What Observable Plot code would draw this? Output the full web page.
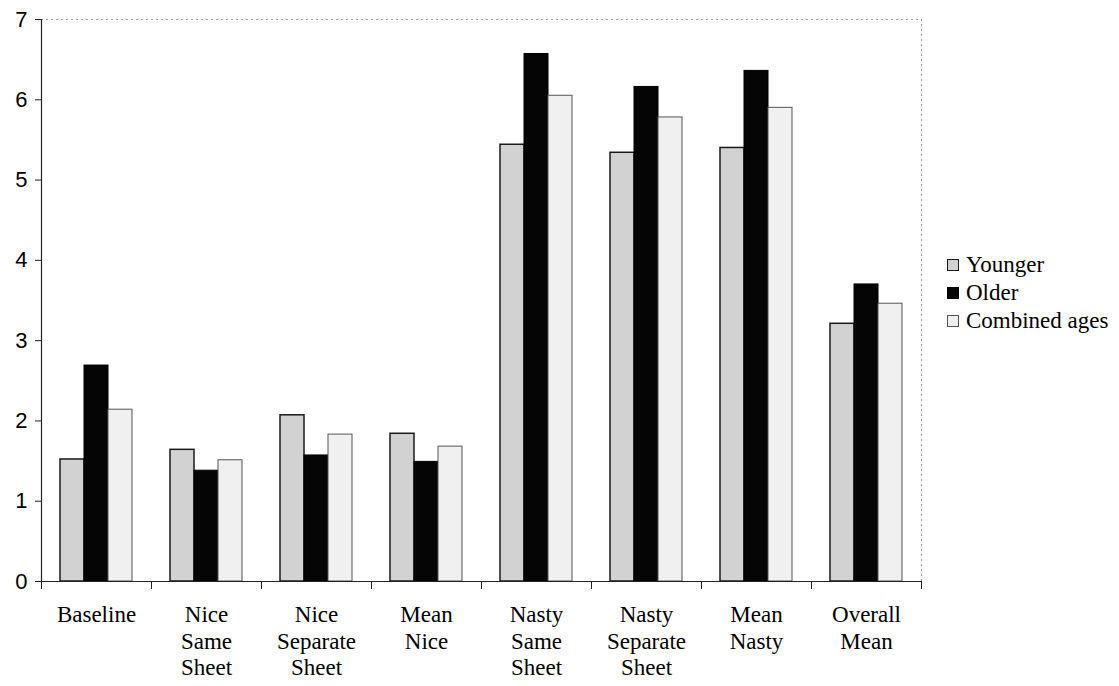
<!DOCTYPE html>
<html>
<head>
<meta charset="utf-8">
<script src="https://cdn.jsdelivr.net/npm/d3@7"></script>
<script src="https://cdn.jsdelivr.net/npm/@observablehq/plot@0.6"></script>
<style>
  body { margin: 0; background: #fff; }
  #wrap { position: relative; width: 1119px; height: 686px; }
  #legend { position: absolute; left: 947px; top: 251px; font-family: "Liberation Serif", serif; font-size: 23px; color: #000; }
  #legend div { height: 28px; line-height: 28px; display: flex; align-items: center; white-space: nowrap; }
  #legend span.sw { display: inline-block; width: 12px; height: 12px; margin-right: 7px; box-sizing: border-box; }
</style>
</head>
<body>
<div id="wrap"><div id="legend"></div></div>
<script>
const categories = ["Baseline", "Nice\nSame\nSheet", "Nice\nSeparate\nSheet", "Mean\nNice", "Nasty\nSame\nSheet", "Nasty\nSeparate\nSheet", "Mean\nNasty", "Overall\nMean"];
const series = ["Younger", "Older", "Combined ages"];
const younger = [1.52, 1.64, 2.07, 1.84, 5.44, 5.34, 5.40, 3.21];
const older = [2.69, 1.38, 1.57, 1.49, 6.57, 6.16, 6.36, 3.70];
const combined = [2.14, 1.51, 1.83, 1.68, 6.05, 5.78, 5.90, 3.46];
const yTicks = [0, 1, 2, 3, 4, 5, 6, 7];

const fills = {"Younger": "#d2d2d2", "Older": "#050505", "Combined ages": "#f0f0f0"};
const strokes = {"Younger": "#1a1a1a", "Older": "#000", "Combined ages": "#555"};

const rows = (vals, s) => categories.map((c, i) => ({category: c, series: s, value: vals[i]}));
const dY = rows(younger, "Younger"), dO = rows(older, "Older"), dC = rows(combined, "Combined ages");

const serif = "Liberation Serif, Times New Roman, serif";
const sans = "Liberation Sans, Arial, sans-serif";

const chart = Plot.plot({
  width: 1119, height: 686,
  marginLeft: 41, marginRight: 198, marginTop: 19, marginBottom: 105,
  x: {domain: categories, padding: 0, axis: null},
  y: {domain: [0, 7], axis: null},
  marks: [
    Plot.ruleY([7], {stroke: "#999", strokeDasharray: "2,3"}),
    Plot.ruleX([categories[categories.length - 1]], {dx: 55, stroke: "#999", strokeDasharray: "2,3"}),
    Plot.barY(dY, {x: "category", y: "value", fill: fills["Younger"], stroke: strokes["Younger"], strokeWidth: 1.5, insetLeft: 19, insetRight: 67}),
    Plot.barY(dO, {x: "category", y: "value", fill: fills["Older"], stroke: strokes["Older"], insetLeft: 43, insetRight: 43}),
    Plot.barY(dC, {x: "category", y: "value", fill: fills["Combined ages"], stroke: strokes["Combined ages"], insetLeft: 67, insetRight: 19}),
    Plot.ruleY([0], {stroke: "#222", strokeWidth: 1.2}),
    Plot.ruleX([categories[0]], {dx: -55, stroke: "#222", strokeWidth: 1.2}),
    Plot.axisY({ticks: yTicks, tickSize: 6, tickPadding: 8, tickFormat: "d", fontSize: 22, fontFamily: sans, stroke: "#222", color: "#000", label: null}),
    Plot.axisX({tickSize: 8, tickFormat: () => "", dx: -55, stroke: "#222", label: null}),
    Plot.axisX({ticks: [categories[categories.length - 1]], tickSize: 8, tickFormat: () => "", dx: 55, stroke: "#222", label: null}),
    Plot.axisX({tickSize: 0, tickPadding: 21, fontSize: 23, fontFamily: serif, lineHeight: 1.17, color: "#000", label: null})
  ]
});
document.getElementById("wrap").prepend(chart);

const legend = document.getElementById("legend");
series.forEach(s => {
  const row = document.createElement("div");
  const sw = document.createElement("span");
  sw.className = "sw";
  sw.style.background = fills[s];
  sw.style.border = "1px solid " + strokes[s];
  row.appendChild(sw);
  row.appendChild(document.createTextNode(s));
  legend.appendChild(row);
});
</script>
</body>
</html>
